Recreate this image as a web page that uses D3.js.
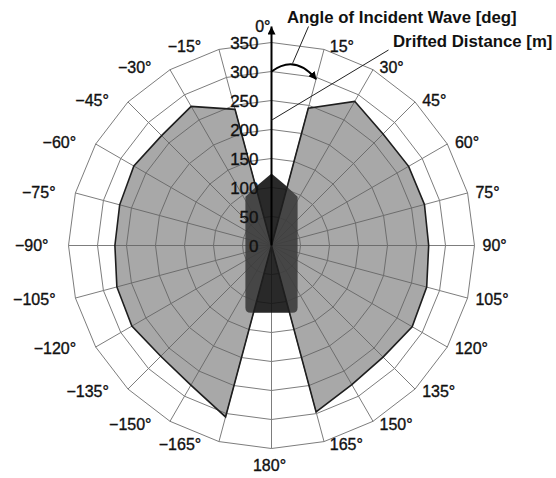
<!DOCTYPE html>
<html>
<head>
<meta charset="utf-8">
<script src="https://cdn.jsdelivr.net/npm/d3@7"></script>
<style>
  body { margin: 0; background: #fff; }
  svg { display: block; font-family: "Liberation Sans", Arial, sans-serif; }
</style>
</head>
<body>
<div id="chart"></div>
<script>
// angle of incident wave [deg], clockwise from bow
const angleTicks = [0, 15, 30, 45, 60, 75, 90, 105, 120, 135, 150, 165, 180,
                    -165, -150, -135, -120, -105, -90, -75, -60, -45, -30, -15];
// drifted distance [m] at each angle above
const driftDistance = [0, 245, 287, 272, 273, 273, 271, 277, 280, 272, 277, 297, 0,
                       306, 278, 270, 278, 276, 270, 271, 274, 268, 277, 243];
const ringTicks = [0, 50, 100, 150, 200, 250, 300, 350];

// ship outline in metres (x to starboard, y towards bow)
const shipX = [0, 24, 45, 45, -45, -45, -24];
const shipY = [124, 104, 84, -116, -116, 84, 104];
const shipCorner = 9;

const W = 556, H = 478;
const CX = 271.5, CY = 245.5;

const svg = d3.select('#chart').append('svg')
    .attr('width', W)
    .attr('height', H);

const g = svg.append('g')
    .attr('transform', `translate(${CX}, ${CY})`);

const r = d3.scaleLinear().domain([0, 350]).range([0, 203]);
const rad = a => a * Math.PI / 180;
const polar = (a, v) => [r(v) * Math.sin(rad(a)), -r(v) * Math.cos(rad(a))];

// arrowheads
const defs = svg.append('defs');
defs.append('marker')
    .attr('id', 'head')
    .attr('viewBox', '0 0 10 10')
    .attr('refX', 9).attr('refY', 5)
    .attr('markerWidth', 8).attr('markerHeight', 8)
    .attr('markerUnits', 'userSpaceOnUse')
    .attr('orient', 'auto')
  .append('path')
    .attr('d', 'M0,0L10,5L0,10Z')
    .attr('fill', '#000');
defs.append('marker')
    .attr('id', 'headBig')
    .attr('viewBox', '0 0 10 10')
    .attr('refX', 10).attr('refY', 5)
    .attr('markerWidth', 12).attr('markerHeight', 8)
    .attr('markerUnits', 'userSpaceOnUse')
    .attr('orient', 'auto')
  .append('path')
    .attr('d', 'M0,0L10,5L0,10Z')
    .attr('fill', '#000');

// GRID
const ringLine = d3.lineRadial()
    .angle(a => rad(a))
    .curve(d3.curveLinearClosed);

g.append('g').selectAll('path')
    .data(ringTicks.slice(1))
    .join('path')
    .attr('d', v => ringLine.radius(r(v))(angleTicks))
    .attr('fill', 'none')
    .attr('stroke', '#7d7d7d')
    .attr('stroke-width', 1);

g.append('g').selectAll('line')
    .data(angleTicks)
    .join('line')
    .attr('x1', 0).attr('y1', 0)
    .attr('x2', a => polar(a, 350)[0])
    .attr('y2', a => polar(a, 350)[1])
    .attr('stroke', '#7d7d7d')
    .attr('stroke-width', 1);

// SHIP
const shipPath = d3.path();
const sx = v => r(v), sy = v => -r(v);
shipPath.moveTo(sx(shipX[0]), sy(shipY[0]));
shipPath.lineTo(sx(shipX[1]), sy(shipY[1]));
shipPath.lineTo(sx(shipX[2]), sy(shipY[2]));
shipPath.lineTo(sx(shipX[3]), sy(shipY[3] + shipCorner));
shipPath.quadraticCurveTo(sx(shipX[3]), sy(shipY[3]), sx(shipX[3] - shipCorner), sy(shipY[3]));
shipPath.lineTo(sx(shipX[4] + shipCorner), sy(shipY[4]));
shipPath.quadraticCurveTo(sx(shipX[4]), sy(shipY[4]), sx(shipX[4]), sy(shipY[4] + shipCorner));
shipPath.lineTo(sx(shipX[5]), sy(shipY[5]));
shipPath.lineTo(sx(shipX[6]), sy(shipY[6]));
shipPath.closePath();

g.append('path')
    .attr('d', shipPath.toString())
    .attr('fill', 'rgba(18,18,18,0.9)');

// DRIFT AREA
const driftLine = d3.lineRadial()
    .angle((d, i) => rad(angleTicks[i]))
    .radius(d => r(d))
    .curve(d3.curveLinearClosed);

g.append('path')
    .attr('d', driftLine(driftDistance))
    .attr('fill', 'rgba(95,95,95,0.545)')
    .attr('stroke', '#1e1e1e')
    .attr('stroke-width', 1.6)
    .attr('stroke-linejoin', 'miter');

// AXIS ARROW (0 deg)
g.append('line')
    .attr('x1', 0).attr('y1', 0)
    .attr('x2', 0).attr('y2', -r(350) - 16)
    .attr('stroke', '#000')
    .attr('stroke-width', 2)
    .attr('marker-end', 'url(#headBig)');

// curved arrow for the angle direction
const p0 = polar(0, 300), pc = polar(7, 333), p1 = polar(15, 297);
g.append('path')
    .attr('d', `M${p0}Q${pc} ${p1}`)
    .attr('fill', 'none')
    .attr('stroke', '#000')
    .attr('stroke-width', 2)
    .attr('marker-end', 'url(#head)');

// RING LABELS
g.append('g').selectAll('text')
    .data(ringTicks)
    .join('text')
    .attr('x', -13)
    .attr('y', v => -r(v))
    .attr('dy', '0.36em')
    .attr('text-anchor', 'end')
    .attr('font-size', 17)
    .attr('fill', '#111')
    .attr('stroke', '#111')
    .attr('stroke-width', 0.35)
    .text(v => v);

// ANGLE LABELS
const angleText = a => a < 0 ? `\u2212${-a}\u00b0` : `${a}\u00b0`;
const RL = 206;
g.append('g').selectAll('text')
    .data(angleTicks)
    .join('text')
    .attr('font-size', 16)
    .attr('fill', '#111')
    .attr('stroke', '#111')
    .attr('stroke-width', 0.35)
    .attr('dy', '0.36em')
    .each(function (a) {
        const t = d3.select(this);
        const [x, y] = polar(a, 350 * RL / 203);
        if (a === 0) {
            t.attr('x', -1).attr('y', -219).attr('text-anchor', 'end');
        } else if (a === 180) {
            t.attr('x', -2).attr('y', 220).attr('text-anchor', 'middle');
        } else if (a > 0) {
            t.attr('x', x + 5).attr('y', y).attr('text-anchor', 'start');
        } else {
            t.attr('x', x - 17).attr('y', y).attr('text-anchor', 'end');
        }
    })
    .text(angleText);

// ANNOTATIONS
const ann = g.append('g')
    .attr('font-size', 16.8)
    .attr('font-weight', 'bold')
    .attr('fill', '#111');

ann.append('line')
    .attr('x1', 37).attr('y1', -219)
    .attr('x2', 21).attr('y2', -182)
    .attr('stroke', '#222').attr('stroke-width', 1);
ann.append('text')
    .attr('x', 15.5).attr('y', -222.5)
    .text('Angle of Incident Wave [deg]');

const q = polar(0, 216);
ann.append('line')
    .attr('x1', 117).attr('y1', -195.5)
    .attr('x2', q[0]).attr('y2', q[1])
    .attr('stroke', '#222').attr('stroke-width', 1);
ann.append('text')
    .attr('x', 121.5).attr('y', -198.5)
    .text('Drifted Distance [m]');
</script>
</body>
</html>
